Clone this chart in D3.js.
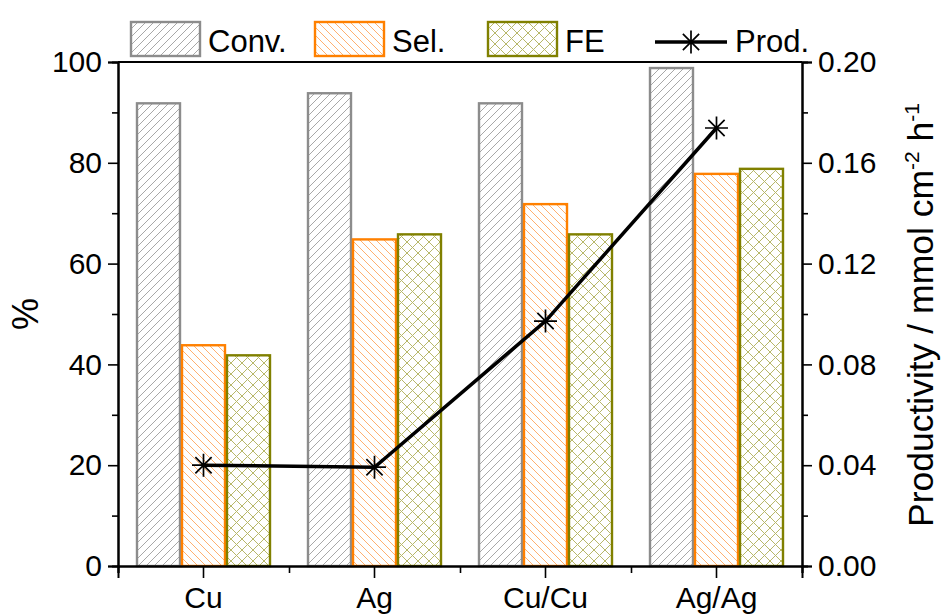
<!DOCTYPE html>
<html><head><meta charset="utf-8">
<script src="https://cdn.jsdelivr.net/npm/d3@7"></script>
<style>body{margin:0;background:#fff}svg{display:block}text{font-family:"Liberation Sans",Arial,sans-serif}</style>
</head><body><svg id="c" width="943" height="615"></svg>
<script>
const categories = ["Cu","Ag","Cu/Cu","Ag/Ag"];
const conv = [92,94,92,99];
const sel = [44,65,72,78];
const fe = [42,66,66,79];
const prod = [0.0400,0.0392,0.0972,0.1738];
const leftTicks = [0,20,40,60,80,100];
const rightTicks = [0,0.04,0.08,0.12,0.16,0.20];

const svg = d3.select("#c");
const M = {l:118, r:802, t:62, b:566};
const x = d3.scaleBand().domain(categories).range([M.l,M.r]).paddingInner(0).paddingOuter(0);
const xs = d3.scaleBand().domain(["conv","sel","fe"]).range([0,x.bandwidth()]).paddingOuter(0.4).paddingInner(0);
const y = d3.scaleLinear().domain([0,100]).range([M.b,M.t]);
const y2 = d3.scaleLinear().domain([0,0.20]).range([M.b,M.t]);

const defs = svg.append("defs");
function hatch(id, color, dirs, size){
  const p = defs.append("pattern").attr("id",id).attr("patternUnits","userSpaceOnUse").attr("width",size).attr("height",size);
  dirs.forEach(d=>{
    if(d==="/"){ p.append("path").attr("d",`M0,${size} L${size},0 M${-size/2},${size/2} L${size/2},${-size/2} M${size/2},${size*1.5} L${size*1.5},${size/2}`).attr("stroke",color).attr("stroke-width",1); }
    else { p.append("path").attr("d",`M0,0 L${size},${size} M${-size/2},${size/2} L${size/2},${size*1.5} M${size/2},${-size/2} L${size*1.5},${size/2}`).attr("stroke",color).attr("stroke-width",1); }
  });
}
hatch("pConv","#a8a8a8",["/"],8);
hatch("pSel","#ffb070",["\\"],8);
hatch("pFE","#b8b86a",["/","\\"],11);

const series = [
  {key:"conv", vals:conv, stroke:"#8c8c8c", fill:"url(#pConv)", name:"Conv."},
  {key:"sel", vals:sel, stroke:"#ff8000", fill:"url(#pSel)", name:"Sel."},
  {key:"fe", vals:fe, stroke:"#808000", fill:"url(#pFE)", name:"FE"}
];
series.forEach(s=>{
  svg.append("g").selectAll("rect").data(categories).join("rect")
    .attr("x",c=>x(c)+xs(s.key)+1)
    .attr("y",(c,i)=>y(s.vals[i])+1)
    .attr("width",xs.bandwidth()-2)
    .attr("height",(c,i)=>y(0)-y(s.vals[i])-1)
    .attr("fill",s.fill).attr("stroke",s.stroke).attr("stroke-width",2.4);
});

// frame top
svg.append("line").attr("x1",M.l).attr("x2",M.r).attr("y1",M.t).attr("y2",M.t).attr("stroke","#000").attr("stroke-width",2);

// left axis
svg.append("g").attr("transform",`translate(${M.l},0)`)
  .call(d3.axisLeft(y).tickValues(leftTicks).tickSize(10).tickPadding(6).tickFormat(d3.format("d")));
svg.append("g").attr("transform",`translate(${M.l},0)`)
  .call(d3.axisLeft(y).tickValues([10,30,50,70,90]).tickSize(6).tickFormat(""));
// right axis
svg.append("g").attr("transform",`translate(${M.r},0)`)
  .call(d3.axisRight(y2).tickValues(rightTicks).tickSize(10).tickPadding(6).tickFormat(d3.format(".2f")));
svg.append("g").attr("transform",`translate(${M.r},0)`)
  .call(d3.axisRight(y2).tickValues([0.02,0.06,0.10,0.14,0.18]).tickSize(6).tickFormat(""));
// bottom axis
svg.append("g").attr("transform",`translate(0,${M.b})`)
  .call(d3.axisBottom(x).tickSize(12).tickPadding(9));
svg.append("g").attr("transform",`translate(0,${M.b})`)
  .call(d3.axisBottom(d3.scaleLinear().domain([0,4]).range([M.l,M.r])).tickValues([0,1,2,3,4]).tickSize(7).tickFormat(""));

svg.selectAll(".domain").attr("stroke","#000").attr("stroke-width",2);
svg.selectAll(".tick line").attr("stroke","#000").attr("stroke-width",1.6);
svg.selectAll(".tick text").attr("font-size",30).attr("fill","#000");

// line + markers
const pts = categories.map((c,i)=>[x(c)+x.bandwidth()/2, y2(prod[i])]);
svg.append("path").attr("d",d3.line()(pts)).attr("fill","none").attr("stroke","#000").attr("stroke-width",3.5);
function star(g,cx,cy,r){
  const a = r*0.707;
  g.append("path").attr("d",`M${cx-r},${cy}L${cx+r},${cy}M${cx},${cy-r}L${cx},${cy+r}M${cx-a},${cy-a}L${cx+a},${cy+a}M${cx-a},${cy+a}L${cx+a},${cy-a}`)
   .attr("stroke","#000").attr("stroke-width",1.7).attr("fill","none");
}
const mg = svg.append("g");
pts.forEach(p=>star(mg,p[0],p[1],11.5));

// axis titles
svg.append("text").attr("transform","translate(38,314) rotate(-90)").attr("text-anchor","middle").attr("font-size",36).text("%");
const rt = svg.append("text").attr("transform","translate(933,527) rotate(-90)").attr("text-anchor","start").attr("font-size",35.5);
rt.append("tspan").text("Productivity / mmol cm");
rt.append("tspan").attr("dy",-14).attr("font-size",21).text("-2");
rt.append("tspan").attr("dy",14).text(" h");
rt.append("tspan").attr("dy",-14).attr("font-size",21).text("-1");

// legend
const lg = svg.append("g");
const lx = [131,315,488];
series.forEach((s,i)=>{
  lg.append("rect").attr("x",lx[i]).attr("y",22).attr("width",69).attr("height",34).attr("fill",s.fill).attr("stroke",s.stroke).attr("stroke-width",2.4);
  lg.append("text").attr("x",lx[i]+77).attr("y",52).attr("font-size",31).text(s.name);
});
lg.append("line").attr("x1",655).attr("x2",727).attr("y1",42).attr("y2",42).attr("stroke","#000").attr("stroke-width",3.5);
star(lg,691,42,11.5);
lg.append("text").attr("x",735).attr("y",52).attr("font-size",31).text("Prod.");
</script></body></html>
